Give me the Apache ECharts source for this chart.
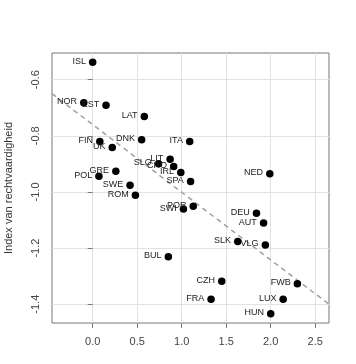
<!DOCTYPE html>
<html>
<head>
<meta charset="utf-8">
<script src="https://cdn.jsdelivr.net/npm/echarts@6/dist/echarts.min.js"></script>
<style>html,body{margin:0;padding:0;background:#fff;}#c{width:356px;height:364px;}</style>
</head>
<body>
<div id="c"></div>
<script>
const countries = ['ISL','NOR','EST','LAT','DNK','FIN','UK','ITA','GRE','POL','SWE','ROM','BUL','LIT','SLO','CRO','IRL','SPA','POR','SWI','NED','DEU','AUT','SLK','VLG','CZH','FWB','FRA','LUX','HUN'];
const xValues = [0.00,-0.10,0.15,0.58,0.55,0.08,0.22,1.09,0.26,0.07,0.42,0.48,0.85,0.87,0.74,0.91,0.99,1.10,1.13,1.02,1.99,1.84,1.92,1.63,1.94,1.45,2.30,1.33,2.14,2.00];
const yValues = [-0.538,-0.682,-0.691,-0.731,-0.814,-0.820,-0.842,-0.820,-0.926,-0.944,-0.976,-1.012,-1.231,-0.884,-0.900,-0.909,-0.931,-0.963,-1.051,-1.061,-0.935,-1.076,-1.111,-1.177,-1.189,-1.318,-1.327,-1.382,-1.382,-1.434];
const fitX = [-0.457, 2.655];
const fitY = [-0.650, -1.400];
const xTicks = [0.0, 0.5, 1.0, 1.5, 2.0, 2.5];
const yTicks = [-1.4, -1.2, -1.0, -0.8, -0.6];
const yTitle = 'Index van rechtvaardigheid';

const pts = countries.map((c, i) => ({name: c, value: [xValues[i], yValues[i]]}));
const fit = fitX.map((x, i) => [x, fitY[i]]);

const chart = echarts.init(document.getElementById('c'), null, {renderer: 'canvas'});
const font = 'Liberation Sans, Arial, Helvetica, sans-serif';
chart.setOption({
  animation: false,
  grid: {left: 52, top: 53, right: 27, bottom: 41, show: true, borderColor: '#777', borderWidth: 1,
    backgroundColor: 'transparent', containLabel: false, outerBoundsMode: 'none'},
  xAxis: {
    type: 'value', min: -0.457, max: 2.655,
    axisLine: {show: false},
    axisTick: {show: true, inside: false, length: 5, lineStyle: {color: '#777'}, customValues: xTicks},
    axisLabel: {customValues: xTicks, color: '#444', fontSize: 11, fontFamily: font, margin: 13,
      formatter: v => v.toFixed(1)},
    splitLine: {show: true, lineStyle: {color: '#e2e2e2', width: 1}}
  },
  yAxis: {
    type: 'value', min: -1.467, max: -0.505,
    name: yTitle, nameLocation: 'middle', nameRotate: 90, nameGap: 38,
    nameTextStyle: {color: '#333', fontSize: 11, fontFamily: font},
    axisLine: {show: false},
    axisTick: {show: true, inside: false, length: 5, lineStyle: {color: '#777'}, customValues: yTicks},
    axisLabel: {customValues: yTicks, rotate: 90, color: '#444', fontSize: 11, fontFamily: font, margin: 11,
      formatter: v => v.toFixed(1)},
    splitLine: {show: true, lineStyle: {color: '#e2e2e2', width: 1}}
  },
  series: [
    {
      type: 'line', data: fit, symbol: 'none', silent: true,
      lineStyle: {color: '#a0a0a0', width: 1.5, type: [5, 4]}, z: 2
    },
    {
      type: 'scatter', data: pts, symbol: 'circle', symbolSize: 7.5,
      itemStyle: {color: '#000', opacity: 1}, z: 3,
      label: {show: true, position: 'left', distance: 3, formatter: p => p.name,
        color: '#222', fontSize: 9, fontFamily: font, offset: [0, -1]}
    }
  ]
});
</script>
</body>
</html>
